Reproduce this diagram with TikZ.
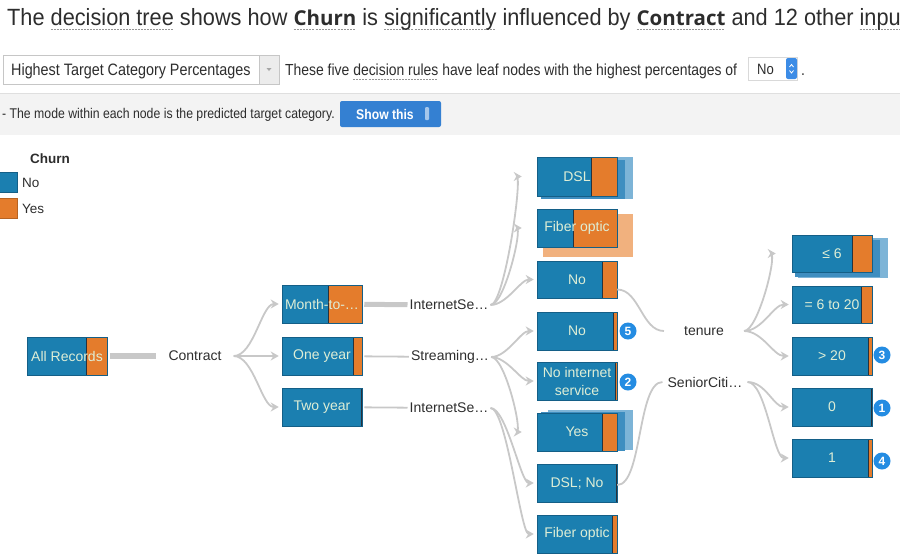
\documentclass[tikz,border=0pt]{standalone}
\usepackage{fontspec}
\setmainfont{Liberation Sans}
\newfontfamily\titlefont[FakeStretch=0.925]{Liberation Sans}
\newfontfamily\openbold{Open Sans}
\newfontfamily\condfont[FakeStretch=0.87]{Liberation Sans}
\usetikzlibrary{fit,arrows.meta}
\definecolor{nblue}{RGB}{27,127,176}
\definecolor{norange}{RGB}{228,124,44}
\definecolor{ndivc}{RGB}{40,50,60}
\definecolor{nedgec}{RGB}{20,95,135}
\definecolor{ntxt}{RGB}{222,238,214}
\definecolor{lgray}{RGB}{200,200,200}
\definecolor{txtdark}{RGB}{45,45,45}
\definecolor{ulgray}{RGB}{150,150,150}
\definecolor{badgeblue}{RGB}{36,140,226}
\definecolor{shblueA}{RGB}{62,142,192}
\definecolor{shblueB}{RGB}{125,180,215}
\definecolor{shorange}{RGB}{240,168,112}
\definecolor{bandgray}{RGB}{243,243,243}
\definecolor{btnblue}{RGB}{52,128,210}
\definecolor{spinblue}{RGB}{60,140,230}
\newsavebox\gulbox
\newcommand\gul[1]{\sbox\gulbox{#1}\rlap{\textcolor{ulgray}{\raisebox{-5pt}{\hbox to \wd\gulbox{\xleaders\hbox{\rule{2pt}{1.2pt}\kern1pt}\hfil}}}}\usebox\gulbox}
\newcommand\bnode[7]{%
  \fill[nblue] (#2,#3) rectangle (#6,#5);
  \fill[norange] (#6,#3) rectangle (#4,#5);
  \draw[ndivc, line width=0.9pt] (#6,#3) -- (#6,#5);
  \node[fit={(#2,#3) (#4,#5)}, inner sep=0pt, draw=nedgec, line width=0.5pt] (#1) {};
  \node[ntext] (#1-t) at (#1.center) {#7};
}
\tikzset{
  ntext/.style={text=ntxt, font=\fontsize{14}{18}\selectfont, inner sep=0pt, align=center},
  lbl/.style={text=txtdark, font=\fontsize{14}{16}\selectfont, inner ysep=2pt},
  conn/.style={draw=lgray, line width=1.8pt},
  fatconn/.style={draw=lgray, line width=6pt},
  arr/.style={conn, -{Stealth[length=8pt,width=9pt,inset=2.5pt]}, shorten >=3pt},
  badge/.style={circle, fill=badgeblue, text=white, inner sep=0pt, minimum size=17pt, font=\bfseries\fontsize{12}{12}\selectfont},
}
\begin{document}
\begin{tikzpicture}[x=1pt, y=-1pt]
\useasboundingbox (0,0) rectangle (900,558);
\clip (0,0) rectangle (900,558);
% title
\node[anchor=base west, inner sep=0pt, text=txtdark] (title) at (7,25)
  {\fontsize{23.5}{28}\titlefont The \gul{decision tree} shows how {\openbold\bfseries\fontsize{20.5}{26}\selectfont\gul{Churn}} is \gul{significantly} influenced by {\openbold\bfseries\fontsize{20.5}{26}\selectfont\gul{Contract}} and 12 other \gul{inputs}};
% dropdown row
\draw[gray!45, fill=white] (3,55) rectangle (279,84);
\fill[gray!15] (259,55.5) rectangle (278.5,83.5);
\draw[gray!45] (259,55) -- (259,84);
\fill[gray!70] (266.5,68) -- (271.5,68) -- (269,71) -- cycle;
\node[anchor=base west, inner sep=0pt, text=txtdark, font=\condfont\fontsize{16.5}{18}\selectfont] (ddtext) at (11,75) {Highest Target Category Percentages};
\node[anchor=base west, inner sep=0pt, text=txtdark, font=\condfont\fontsize{16}{18}\selectfont] (rules) at (285,75) {These five \gul{decision rules} have leaf nodes with the highest percentages of};
\draw[gray!30, fill=white] (748,57) rectangle (797,80);
\node[anchor=base west, inner sep=0pt, text=txtdark, font=\condfont\fontsize{15}{18}\selectfont] (selno) at (757,74) {No};
\fill[spinblue, rounded corners=2pt] (786,58) rectangle (797,79);
\draw[white, line width=0.8pt] (789.5,67) -- (791.5,64.5) -- (793.5,67) (789.5,70.5) -- (791.5,73) -- (793.5,70.5);
\node[anchor=base west, inner sep=0pt, text=txtdark, font=\condfont\fontsize{16}{18}\selectfont] (dot) at (801,75) {.};
% gray band
\fill[bandgray] (0,93) rectangle (900,135);
\draw[gray!25, line width=1pt] (0,93) -- (900,93);
\node[anchor=base west, inner sep=0pt, text=txtdark, font=\condfont\fontsize{14.1}{16}\selectfont] (mode) at (2,118) {- The mode within each node is the predicted target category.};
\fill[btnblue, rounded corners=2pt] (340,101) rectangle (441,127);
\node[text=white, inner sep=0pt, font=\condfont\bfseries\fontsize{14}{16}\selectfont] (show) at (385,114) {Show this};
\fill[white!55!btnblue, rounded corners=1pt] (425,107) rectangle (429,120);
% legend
\node[anchor=base west, inner sep=0pt, text=txtdark, font=\bfseries\fontsize{13.5}{16}\selectfont] (lgtitle) at (30,163) {Churn};
\node[fill=nblue, draw=nedgec, line width=0.5pt, inner sep=0pt, minimum width=18pt, minimum height=20pt, anchor=north west] (lgno) at (-1,172) {};
\node[fill=norange, draw=norange!80!black, line width=0.5pt, inner sep=0pt, minimum width=18pt, minimum height=20pt, anchor=north west] (lgyes) at (-1,198) {};
\node[anchor=west, inner sep=0pt, text=txtdark, font=\fontsize{13.5}{16}\selectfont] (lgnot) at (22,183) {No};
\node[anchor=west, inner sep=0pt, text=txtdark, font=\fontsize{13.5}{16}\selectfont] (lgyest) at (22,209) {Yes};
% shadows
\fill[shblueB] (548,157) rectangle (633,199);
\fill[shblueA] (541,160) rectangle (625,199);
\fill[shorange, opacity=0.9] (543,214) rectangle (633,257);
\fill[shblueB] (548,410) rectangle (633,450);
\fill[shblueA] (541,412) rectangle (625,451);
\fill[shblueB] (798,238) rectangle (888,278);
\fill[shblueA] (795,240) rectangle (880,277);
% nodes
\bnode{allrec}{27}{337}{107}{375}{86}{All Records}
\bnode{month}{282}{285}{362}{323}{328}{Month-to-…}
\bnode{oneyear}{282}{337}{362}{375}{353}{One year}
\bnode{twoyear}{282}{388}{362}{426}{361}{Two year}
\bnode{dsl}{537}{157}{617}{196}{591}{DSL}
\bnode{fiberA}{537}{209}{617}{247}{573}{Fiber optic}
\bnode{noA}{537}{261}{617}{298}{602}{No}
\bnode{noB}{537}{312}{617}{350}{613}{No}
\bnode{noint}{537}{362}{617}{400}{615}{No internet\\service}
\bnode{yes}{537}{413}{617}{451}{602}{Yes}
\bnode{dslno}{537}{464}{617}{502}{616}{DSL; No}
\bnode{fiberB}{537}{515}{617}{553}{612}{Fiber optic}
\bnode{le6}{792}{235}{872}{272}{852}{≤ 6}
\bnode{mid}{792}{286}{872}{323}{861}{= 6 to 20}
\bnode{gt20}{792}{337}{872}{375}{868}{> 20}
\bnode{zero}{792}{388}{872}{426}{871}{0}
\bnode{one}{792}{439}{872}{477}{868}{1}
% labels
\node[lbl, inner xsep=12pt] (contract) at (195,356) {Contract};
\node[lbl, inner xsep=2pt] (inetA) at (449,305) {InternetSe…};
\node[lbl, inner xsep=2pt] (stream) at (450,357) {Streaming…};
\node[lbl, inner xsep=2pt] (inetB) at (449,408) {InternetSe…};
\node[lbl, inner xsep=20pt] (tenure) at (704,331) {tenure};
\node[lbl, inner xsep=5pt] (senior) at (705,382) {SeniorCiti…};
% badges
\node[badge] (b5) at (628,331) {5};
\node[badge] (b2) at (628,382) {2};
\node[badge] (b3) at (882,355) {3};
\node[badge] (b1) at (882,408) {1};
\node[badge] (b4) at (882,461) {4};
% straight connectors
\draw[fatconn, shorten <=3pt] (allrec) -- (contract);
\draw[fatconn, line width=5pt, shorten <=2pt] (month) -- (inetA);
\draw[conn, shorten <=2pt] (oneyear) -- (stream);
\draw[conn, shorten <=2pt] (twoyear) -- (inetB);
% curved arrows
\draw[arr] (contract.east) to[out=0,in=180,distance=20pt] (month.west);
\draw[arr] (contract.east) to[out=0,in=180,distance=20pt] (oneyear.west);
\draw[arr] (contract.east) to[out=0,in=180,distance=20pt] (twoyear.west);
\draw[arr, shorten >=15pt] (inetA.east) to[out=0,in=180,distance=14pt] (dsl.west);
\draw[arr, shorten >=15pt] (inetA.east) to[out=0,in=180,distance=14pt] (fiberA.west);
\draw[arr] (inetA.east) to[out=0,in=180,distance=16pt] (noA.west);
\draw[arr] (stream.east) to[out=0,in=180,distance=16pt] (noB.west);
\draw[arr] (stream.east) to[out=0,in=180,distance=16pt] (noint.west);
\draw[arr, shorten >=15pt] (stream.east) to[out=0,in=180,distance=14pt] (yes.west);
\draw[arr] (inetB.east) to[out=0,in=180,distance=16pt] (dslno.west);
\draw[arr] (inetB.east) to[out=0,in=180,distance=16pt] (fiberB.west);
\draw[conn] ([yshift=-10pt]noA.east) to[out=0,in=180,distance=22pt] (tenure.west);
\draw[conn] ([yshift=-2pt]dslno.east) to[out=0,in=180,distance=25pt] (senior.west);
\draw[arr, shorten >=16pt] (tenure.east) to[out=0,in=180,distance=14pt] (le6.west);
\draw[arr] (tenure.east) to[out=0,in=180,distance=18pt] (mid.west);
\draw[arr] (tenure.east) to[out=0,in=180,distance=18pt] (gt20.west);
\draw[arr] (senior.east) to[out=0,in=180,distance=18pt] (zero.west);
\draw[arr] (senior.east) to[out=0,in=180,distance=18pt] (one.west);
\end{tikzpicture}
\end{document}
